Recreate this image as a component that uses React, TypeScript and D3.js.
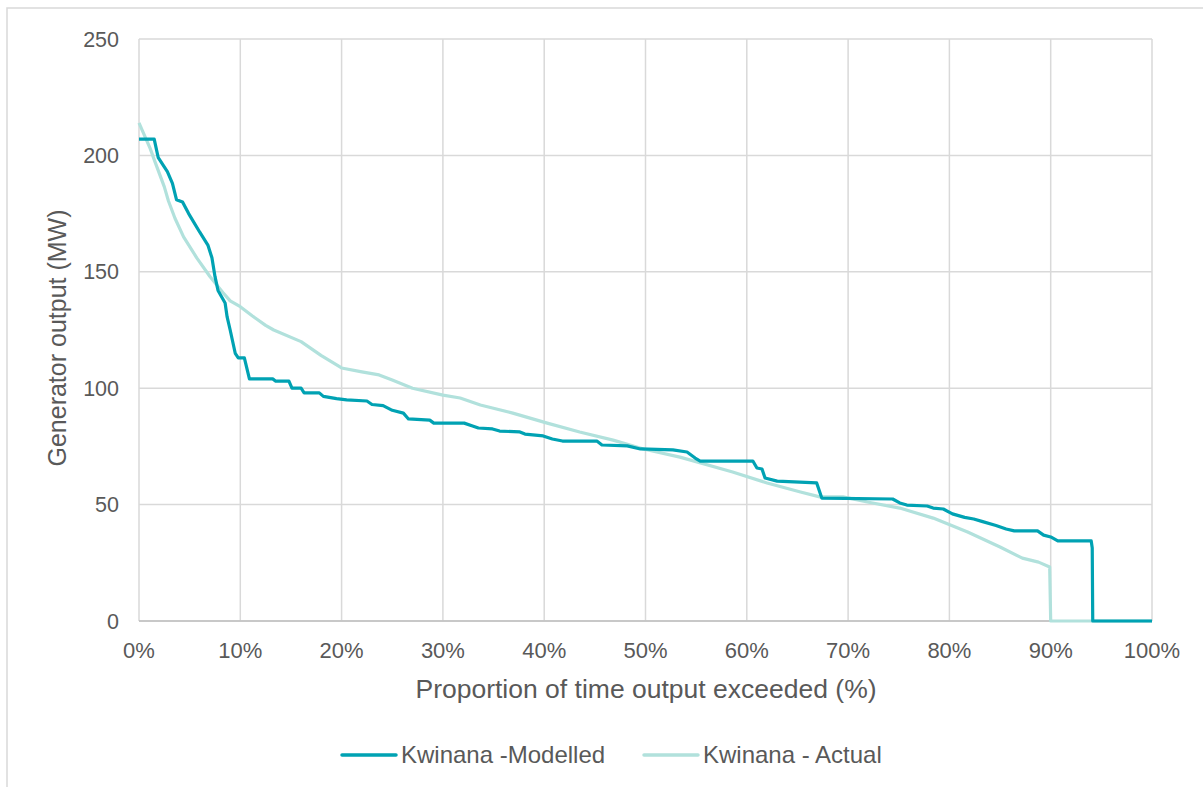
import React from "react";
import * as d3 from "d3";

const modelledX = [0, 1.5, 1.9, 2.8, 3.3, 3.7, 4.3, 4.9, 6.0, 6.8, 7.2, 7.5, 7.8, 8.5, 8.7, 9.0, 9.5, 9.8, 10.4, 10.9, 13.2, 13.5, 14.8, 15.1, 16.0, 16.3, 17.8, 18.2, 19.5, 20.5, 22.5, 23.0, 24.1, 25.0, 26.1, 26.6, 28.7, 29.1, 32.1, 33.0, 33.5, 34.9, 35.6, 37.6, 38.1, 39.9, 40.8, 41.8, 45.2, 45.7, 48.2, 49.5, 52.7, 54.1, 54.9, 55.4, 60.6, 61.0, 61.5, 61.8, 63.0, 66.9, 67.4, 74.4, 75.1, 75.8, 77.8, 78.4, 79.4, 80.3, 81.5, 82.4, 83.2, 84.6, 85.6, 86.4, 88.7, 89.3, 90.0, 90.7, 94.0, 94.1, 94.15, 100];
const modelledY = [207, 207, 199, 193, 188, 181, 180, 175, 167, 161.5, 156, 148, 142, 136.6, 130.6, 125, 115, 113, 113, 104, 104, 103, 103, 100, 100, 98, 98, 96.5, 95.5, 95, 94.5, 93, 92.5, 90.5, 89.3, 86.8, 86.3, 85, 85, 83.7, 82.9, 82.5, 81.6, 81.2, 80.3, 79.5, 78.2, 77.3, 77.3, 75.6, 75.2, 73.9, 73.5, 72.6, 70, 68.7, 68.7, 65.7, 65.3, 61.4, 60.1, 59.3, 52.8, 52.4, 50.7, 49.8, 49.4, 48.5, 48.1, 46, 44.5, 43.8, 42.8, 41, 39.5, 38.7, 38.7, 36.9, 36.1, 34.4, 34.4, 31.4, 0, 0];

const actualX = [0, 0.3, 1.1, 1.6, 2.5, 2.9, 3.55, 4.4, 5.7, 7.0, 8.3, 9.0, 10.0, 11.2, 12.5, 13.3, 16.0, 18.0, 20.0, 22.0, 23.7, 25.0, 27.0, 30.0, 31.7, 33.7, 36.9, 40.3, 43.5, 46.8, 49.8, 53.4, 58.6, 62.0, 65.3, 67.2, 69.5, 71.9, 75.1, 78.4, 81.8, 85.0, 87.2, 88.8, 89.9, 90.0, 100];
const actualY = [214, 211, 203, 197, 186.5, 180.5, 173, 165, 156, 148, 141, 137.5, 135, 131, 127, 125, 120, 114, 108.7, 107, 105.7, 103.5, 100, 97, 95.8, 92.8, 89.3, 85, 81.2, 77.7, 73.9, 70.4, 64, 59.3, 55.4, 53.3, 53.3, 51.1, 48.5, 44.2, 38.2, 31.8, 27, 25.3, 23.2, 0, 0];

const xTicks = [0, 10, 20, 30, 40, 50, 60, 70, 80, 90, 100];
const yTicks = [0, 50, 100, 150, 200, 250];

const seriesNames = ["Kwinana -Modelled", "Kwinana - Actual"];
const seriesColors = ["#00A2B3", "#B1E1DC"];

export default function App() {
  const W = 1203;
  const H = 787;
  const left = 139, right = 1152, top = 39, bottom = 621;
  const x = d3.scaleLinear().domain([0, 100]).range([left, right]);
  const y = d3.scaleLinear().domain([0, 250]).range([bottom, top]);
  const line = d3
    .line<[number, number]>()
    .x((d) => x(d[0]))
    .y((d) => y(d[1]));
  const modelled: [number, number][] = modelledX.map((v, i) => [v, modelledY[i]]);
  const actual: [number, number][] = actualX.map((v, i) => [v, actualY[i]]);
  const font = "'Liberation Sans', Arial, sans-serif";
  const textColor = "#595959";

  return (
    <svg
      width={W}
      height={H}
      style={{ position: "absolute", left: 0, top: 0, display: "block" }}
      fontFamily={font}
    >
      <rect x={0} y={0} width={W} height={H} fill="#ffffff" />
      <rect x={7} y={8} width={W} height={H} fill="none" stroke="#d9d9d9" strokeWidth={1.5} />
      {/* grid */}
      {yTicks.map((t) => (
        <line key={"gy" + t} x1={left} x2={right} y1={y(t)} y2={y(t)} stroke="#d9d9d9" strokeWidth={1.5} />
      ))}
      {xTicks.map((t) => (
        <line key={"gx" + t} x1={x(t)} x2={x(t)} y1={top} y2={bottom} stroke="#d9d9d9" strokeWidth={1.5} />
      ))}
      <line x1={left} x2={right} y1={bottom} y2={bottom} stroke="#bfbfbf" strokeWidth={1.5} />
      {/* tick labels */}
      {yTicks.map((t) => (
        <text key={"ty" + t} x={left - 20} y={y(t)} dy="0.35em" textAnchor="end" fontSize={21.5} fill={textColor}>
          {t}
        </text>
      ))}
      {xTicks.map((t) => (
        <text key={"tx" + t} x={x(t)} y={bottom + 29} dy="0.35em" textAnchor="middle" fontSize={22} fill={textColor}>
          {t + "%"}
        </text>
      ))}
      {/* axis titles */}
      <text
        transform={`translate(57,338) rotate(-90)`}
        textAnchor="middle"
        dy="0.35em"
        fontSize={25}
        fill={textColor}
      >
        Generator output (MW)
      </text>
      <text x={646} y={689} dy="0.35em" textAnchor="middle" fontSize={26.5} fill={textColor}>
        Proportion of time output exceeded (%)
      </text>
      {/* series */}
      <path d={line(actual) || ""} fill="none" stroke={seriesColors[1]} strokeWidth={3.2} strokeLinejoin="round" />
      <path d={line(modelled) || ""} fill="none" stroke={seriesColors[0]} strokeWidth={3.2} strokeLinejoin="round" />
      {/* legend */}
      {seriesNames.map((n, i) => {
        const lx = i === 0 ? 342 : 644;
        return (
          <g key={n}>
            <line x1={lx} x2={lx + 54} y1={755} y2={755} stroke={seriesColors[i]} strokeWidth={3.5} strokeLinecap="round" />
            <text x={lx + 59} y={755} dy="0.35em" fontSize={24} fill={textColor}>
              {n}
            </text>
          </g>
        );
      })}
    </svg>
  );
}
